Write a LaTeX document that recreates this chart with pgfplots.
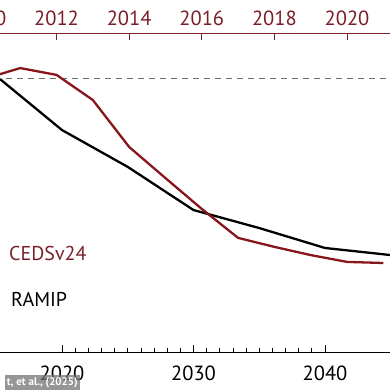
\documentclass[border=0pt]{standalone}
\usepackage{fontspec}
\setmainfont{PT Sans}
\usepackage{pgfplots}
\pgfplotsset{compat=1.18}
\definecolor{cred}{RGB}{135,22,28}
\definecolor{ctext}{RGB}{122,30,40}
\definecolor{dashgray}{RGB}{110,110,110}
\begin{document}
\begin{tikzpicture}
\begin{scope}
\clip (0pt,0pt) rectangle (390pt,390pt);
% bottom axis: RAMIP
\begin{axis}[
  at={(-3.75pt,38pt)}, anchor=south west,
  scale only axis, width=394.5pt, height=319pt,
  xmin=2015, xmax=2045, ymin=0, ymax=1.1685,
  axis x line*=bottom, hide y axis,
  x axis line style={-, line width=0.9pt, black},
  xtick={2020,2030,2040}, minor x tick num=9,
  tick align=inside, major tick length=7pt, minor tick length=4pt,
  every tick/.style={black, line width=0.8pt},
  x tick label style={/pgf/number format/1000 sep={}, /pgf/number format/assume math mode=true, font=\fontsize{20.5}{22}\selectfont, yshift=-10.5pt},
]
\addplot[black, line width=2.3pt] coordinates {
 (2015,1.011) (2020,0.813) (2025,0.678) (2030,0.520) (2035,0.454) (2040,0.381) (2045,0.355)
};
\end{axis}
% top axis: CEDSv24
\begin{axis}[
  at={(-16.1pt,38pt)}, anchor=south west,
  scale only axis, width=435.75pt, height=319pt,
  xmin=2010, xmax=2022, ymin=0, ymax=1.1685,
  axis x line*=top, hide y axis,
  x axis line style={-, line width=0.9pt, ctext},
  xtick={2010,2012,...,2022}, minor x tick num=3,
  tick align=inside, major tick length=7pt, minor tick length=3.5pt,
  every tick/.style={ctext, line width=0.8pt},
  x tick label style={/pgf/number format/1000 sep={}, /pgf/number format/assume math mode=true, font=\fontsize{20.5}{22}\selectfont, text=ctext, yshift=3.5pt},
]
\addplot[dashgray, line width=1pt, dash pattern=on 6pt off 5pt] coordinates {(2010,1) (2022,1)};
\addplot[cred, line width=2.3pt] coordinates {
 (2010,1.000) (2011,1.040) (2012,1.015) (2013,0.923) (2014,0.751) (2015,0.637) (2016,0.524)
 (2017,0.418) (2018,0.385) (2019,0.355) (2020,0.330) (2021,0.326)
};
\end{axis}
\node[anchor=west, inner sep=0pt, text=ctext, font=\fontsize{20}{22}\selectfont] at (9pt,136pt) {CEDSv24};
\node[anchor=west, inner sep=0pt, text=black, font=\fontsize{20}{22}\selectfont] at (11pt,90.5pt) {RAMIP};
\node[anchor=south east, fill=black!55, fill opacity=0.75, text opacity=1, text=white, inner sep=2pt, font=\bfseries\fontsize{11}{12}\selectfont, minimum height=15pt] at (80pt,0pt) {t, et al., (2025)};
\end{scope}
\pgfresetboundingbox
\path (0pt,0pt) rectangle (390pt,390pt);
\end{tikzpicture}
\end{document}
